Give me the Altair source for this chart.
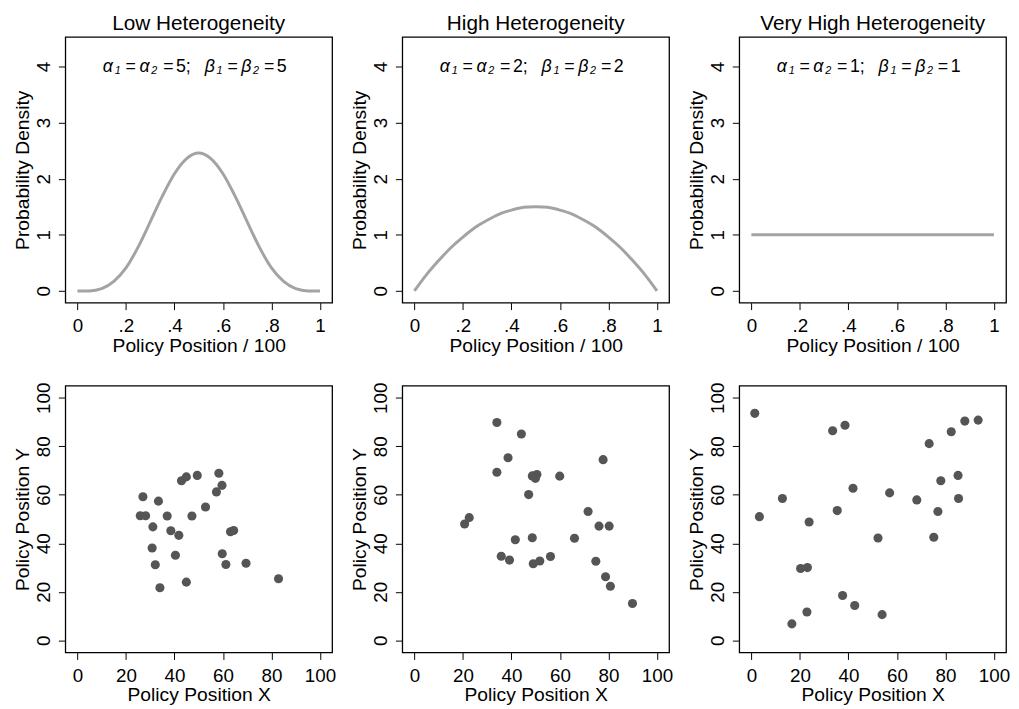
import altair as alt
import pandas as pd

# ---------------- data ----------------
PANEL_TITLES = ["Low Heterogeneity", "High Heterogeneity", "Very High Heterogeneity"]
PARAMS = [5, 2, 1]

DENS_X = [0.00, 0.05, 0.10, 0.15, 0.20, 0.25, 0.30, 0.35, 0.40, 0.45, 0.50,
          0.55, 0.60, 0.65, 0.70, 0.75, 0.80, 0.85, 0.90, 0.95, 1.00]
DENS_LOW = [0.00, 0.00, 0.04, 0.17, 0.41, 0.78, 1.23, 1.69, 2.09, 2.36, 2.46,
            2.36, 2.09, 1.69, 1.23, 0.78, 0.41, 0.17, 0.04, 0.00, 0.00]
DENS_HIGH = [0.00, 0.29, 0.54, 0.77, 0.96, 1.13, 1.26, 1.37, 1.44, 1.49, 1.50,
             1.49, 1.44, 1.37, 1.26, 1.13, 0.96, 0.77, 0.54, 0.29, 0.00]
DENS_VHIGH = [1.00, 1.00, 1.00, 1.00, 1.00, 1.00, 1.00, 1.00, 1.00, 1.00, 1.00,
              1.00, 1.00, 1.00, 1.00, 1.00, 1.00, 1.00, 1.00, 1.00, 1.00]
INTERP = ["monotone", "natural", "linear"]

LOW_X = [25.9, 28.1, 27.0, 33.4, 31.1, 30.8, 32.1, 34.0, 37.0, 38.5, 41.8, 40.4, 42.9, 44.9,
         49.4, 47.2, 44.9, 52.8, 57.3, 58.3, 59.6, 63.1, 64.4, 59.7, 61.2, 69.5, 82.9]
LOW_Y = [51.4, 51.4, 59.2, 57.4, 46.8, 38.1, 31.2, 21.7, 51.3, 45.2, 43.3, 35.1, 65.8, 67.4,
         68.0, 51.3, 24.0, 55.0, 61.2, 68.9, 63.9, 44.8, 45.3, 35.7, 31.3, 31.8, 25.4]

HIGH_X = [20.7, 22.6, 34.0, 34.0, 38.6, 44.1, 35.8, 39.2, 41.6, 48.6, 47.1, 48.6, 50.5, 49.9,
          49.0, 51.7, 56.1, 59.9, 66.0, 71.6, 76.1, 80.3, 77.8, 74.8, 78.8, 80.8, 89.9]
HIGH_Y = [48.0, 50.6, 89.8, 69.3, 75.3, 85.1, 34.7, 33.1, 41.5, 42.3, 60.1, 67.8, 68.4, 66.8,
          31.6, 32.7, 34.6, 67.7, 42.1, 53.1, 47.1, 47.1, 74.5, 32.6, 26.2, 22.3, 15.2]

VHIGH_X = [1.4, 3.3, 12.8, 16.7, 20.3, 23.1, 22.9, 23.8, 33.5, 38.6, 35.4, 41.9, 37.6, 42.6,
           52.2, 53.9, 57.0, 68.2, 73.3, 75.2, 76.9, 78.1, 82.4, 85.2, 85.4, 88.0, 93.5]
VHIGH_Y = [93.6, 51.0, 58.5, 6.8, 29.6, 30.0, 11.7, 48.8, 86.4, 88.7, 53.5, 62.7, 18.5, 14.4,
           42.2, 10.6, 60.8, 57.9, 81.1, 42.5, 53.1, 65.8, 86.0, 68.0, 58.5, 90.4, 90.8]

DENS_TICKS = [0, 0.2, 0.4, 0.6, 0.8, 1]
DENS_YTICKS = [0, 1, 2, 3, 4]
SCAT_TICKS = [0, 20, 40, 60, 80, 100]

FONT = "Liberation Sans"
W, H = 270, 269
LINE_COLOR = "#A3A3A3"
POINT_COLOR = "#555555"


def annotation(p):
    # (text, italic, size, dx, dy)
    pieces = [
        ("α", True, 18, -97, 0), ("1", True, 11, -85, 5), ("=", False, 18, -74, 0),
        ("α", True, 18, -60, 0), ("2", True, 11, -48, 5), ("=", False, 18, -36, 0),
        (f"{p};", False, 18, -23, 0),
        ("β", True, 18, 6, 0), ("1", True, 11, 18, 5), ("=", False, 18, 29, 0),
        ("β", True, 18, 43, 0), ("2", True, 11, 55, 5), ("=", False, 18, 66, 0),
        (f"{p}", False, 18, 79, 0),
    ]
    df = pd.DataFrame({"x": [0.5], "y": [4.0]})
    layers = []
    for t, it, sz, dx, dy in pieces:
        layers.append(
            alt.Chart(df).mark_text(
                text=t, font=FONT, fontSize=sz, fontStyle="italic" if it else "normal",
                align="left", baseline="middle", dx=dx, dy=dy, color="black"
            ).encode(x="x:Q", y="y:Q")
        )
    return layers


def density_panel(values, title, p, interp):
    df = pd.DataFrame({"x": DENS_X, "y": values})
    xs = alt.Scale(domain=[-0.05, 1.05], nice=False, zero=False)
    ys = alt.Scale(domain=[-0.21, 4.53], nice=False, zero=False)
    line = alt.Chart(df).mark_line(color=LINE_COLOR, strokeWidth=3, interpolate=interp).encode(
        x=alt.X("x:Q", scale=xs, axis=alt.Axis(
            values=DENS_TICKS, title="Policy Position / 100",
            labelExpr="datum.value == 0 ? '0' : datum.value == 1 ? '1' : '.' + format(datum.value * 10, 'd')")),
        y=alt.Y("y:Q", scale=ys, axis=alt.Axis(values=DENS_YTICKS, format="d", title="Probability Density")),
    )
    return alt.layer(line, *annotation(p)).properties(width=W, height=H, title=title)


def scatter_panel(xv, yv):
    df = pd.DataFrame({"x": xv, "y": yv})
    sc = alt.Scale(domain=[-5, 105], nice=False, zero=False)
    return alt.Chart(df).mark_circle(color=POINT_COLOR, size=85, opacity=1).encode(
        x=alt.X("x:Q", scale=sc, axis=alt.Axis(values=SCAT_TICKS, format="d", title="Policy Position X")),
        y=alt.Y("y:Q", scale=sc, axis=alt.Axis(values=SCAT_TICKS, format="d", title="Policy Position Y")),
    ).properties(width=W, height=H + 1)


panels = [
    density_panel(DENS_LOW, PANEL_TITLES[0], PARAMS[0], INTERP[0]),
    density_panel(DENS_HIGH, PANEL_TITLES[1], PARAMS[1], INTERP[1]),
    density_panel(DENS_VHIGH, PANEL_TITLES[2], PARAMS[2], INTERP[2]),
    scatter_panel(LOW_X, LOW_Y),
    scatter_panel(HIGH_X, HIGH_Y),
    scatter_panel(VHIGH_X, VHIGH_Y),
]

chart = alt.concat(*panels, columns=3, spacing={"row": 84, "column": 71}, bounds="flush").configure(
    font=FONT, padding={"left": 4, "top": 0, "right": 0, "bottom": 0}
).configure_view(
    stroke="black", strokeWidth=1.3
).configure_axis(
    domain=False, grid=False, ticks=True, tickColor="black", tickSize=7, tickWidth=1,
    labelFont=FONT, labelFontSize=19, labelColor="black", labelPadding=7,
    titleFont=FONT, titleFontSize=19.5, titleFontWeight="normal", titleColor="black", titlePadding=1,
    labelFlush=False, labelOverlap=False,
).configure_axisY(
    labelAngle=270, labelAlign="center", labelBaseline="alphabetic", labelPadding=9, titlePadding=2
).configure_title(
    font=FONT, fontSize=21, fontWeight="normal", color="black", baseline="bottom", offset=3
)

chart.save("out.html", embed_options={"renderer": "svg", "actions": False})
